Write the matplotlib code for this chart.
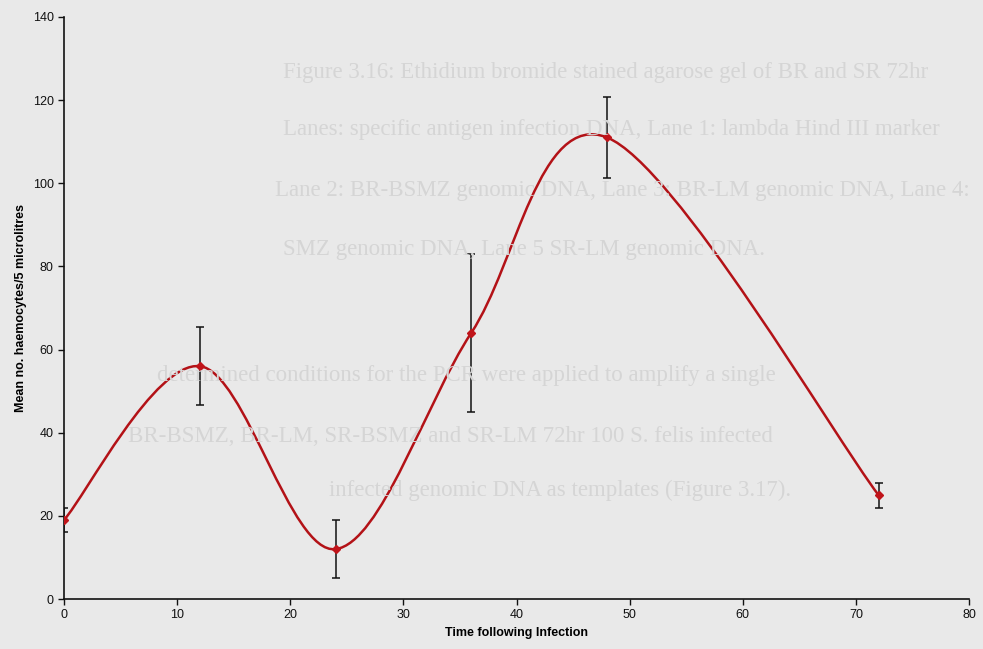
import matplotlib
matplotlib.use("Agg")
import matplotlib.pyplot as plt
from matplotlib.path import Path
from matplotlib.patches import PathPatch

plt.rcParams['font.family'] = ['Liberation Sans', 'DejaVu Sans']

# hours after infection, mean haemocyte count and error
hours = [0, 12, 24, 36, 48, 72]
mean_count = [19, 56, 12, 64, 111, 25]
err = [3, 9.3, 7, 19, 9.8, 3]

# faint text showing through from the other side of the scanned page
ghost_lines = [
    "Figure 3.16: Ethidium bromide stained agarose gel of BR and SR 72hr",
    "Lanes: specific antigen infection DNA, Lane 1: lambda Hind III marker",
    "Lane 2: BR-BSMZ genomic DNA, Lane 3: BR-LM genomic DNA, Lane 4:",
    "SMZ genomic DNA, Lane 5 SR-LM genomic DNA.",
    "determined conditions for the PCR were applied to amplify a single",
    "BR-BSMZ, BR-LM, SR-BSMZ and SR-LM 72hr 100 S. felis infected",
    "infected genomic DNA as templates (Figure 3.17).",
]
ghost_pos = [(0.288, 0.888), (0.288, 0.800), (0.280, 0.707), (0.288, 0.615),
             (0.16, 0.422), (0.13, 0.327), (0.335, 0.245)]

bg = '#e9e9e9'
fig = plt.figure(figsize=(9.83, 6.49), dpi=100, facecolor=bg)
for txt, (gx, gy) in zip(ghost_lines, ghost_pos):
    fig.text(gx, gy, txt, family='Liberation Serif', fontsize=16.5,
             color='#d5d5d5', va='center', zorder=0)

ax = fig.add_axes([0.0651, 0.077, 0.9207, 0.897])
ax.set_facecolor('none')

# Excel-style smoothed line: cubic Bezier through the points
pts = list(zip(hours, mean_count))
verts = [pts[0]]
codes = [Path.MOVETO]
n = len(pts)
for i in range(n - 1):
    p0 = pts[i - 1] if i > 0 else pts[i]
    p1 = pts[i]
    p2 = pts[i + 1]
    p3 = pts[i + 2] if i + 2 < n else pts[i + 1]
    c1 = (p1[0] + (p2[0] - p0[0]) / 6, p1[1] + (p2[1] - p0[1]) / 6)
    c2 = (p2[0] - (p3[0] - p1[0]) / 6, p2[1] - (p3[1] - p1[1]) / 6)
    verts += [c1, c2, p2]
    codes += [Path.CURVE4] * 3
ax.add_patch(PathPatch(Path(verts, codes), fill=False, edgecolor='#b31217',
                       lw=1.8, zorder=3))

ax.errorbar(hours, mean_count, yerr=err, fmt='none', ecolor='#111111',
            elinewidth=1.1, capsize=3, capthick=1.1, zorder=2)
ax.plot(hours, mean_count, ls='none', marker='D', ms=4.5, color='#c0141a', zorder=4)

ax.set_xlim(0, 80)
ax.set_ylim(0, 140)
ax.set_xticks(range(0, 81, 10))
ax.set_yticks(range(0, 141, 20))
for s in ['top', 'right']:
    ax.spines[s].set_visible(False)
for s in ['left', 'bottom']:
    ax.spines[s].set_linewidth(1.2)
    ax.spines[s].set_color('#111111')
ax.tick_params(direction='out', length=4, width=1, labelsize=9, colors='#111111')
ax.set_xlabel("Time following Infection", fontsize=9, fontweight='bold', labelpad=4)
ax.set_ylabel("Mean no. haemocytes/5 microlitres", fontsize=9, fontweight='bold', labelpad=4)

fig.savefig("out.png", dpi=100, facecolor=bg)
